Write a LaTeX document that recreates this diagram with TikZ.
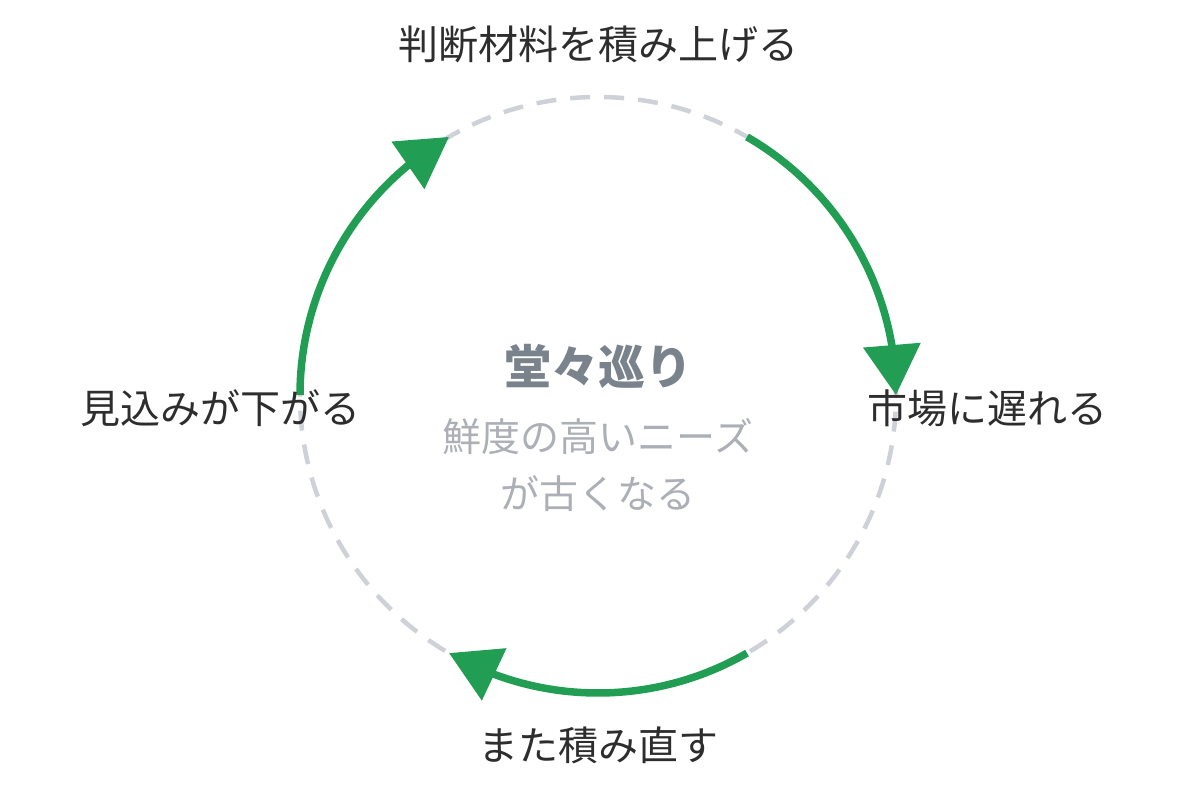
\documentclass[tikz,border=0pt]{standalone}
\usepackage{fontspec}
\setmainfont{Noto Sans CJK JP}
\usetikzlibrary{arrows.meta,bending}
\definecolor{loopgreen}{RGB}{34,158,84}
\definecolor{ringgray}{RGB}{206,209,215}
\definecolor{labeldark}{RGB}{45,45,45}
\definecolor{titlegray}{RGB}{122,130,140}
\definecolor{subgray}{RGB}{172,176,182}
\tikzset{
  ring/.style={draw=ringgray,line width=4.5pt,dash pattern=on 20pt off 14pt},
  cyclearc/.style={draw=loopgreen,line width=7.5pt,-{Triangle[length=50pt,width=56pt,flex]}},
  steplabel/.style={text=labeldark,font=\fontsize{40}{44}\selectfont,inner sep=0pt},
}
\begin{document}
\begin{tikzpicture}[x=1pt,y=1pt]
	\useasboundingbox (0,0) rectangle (1200,791);
	\coordinate (c) at (598,396);
	
	%Shape: Circle
	\draw [ring] (c) circle[radius=298];
	%Curve Lines
	\draw [cyclearc] (c) ++(60:298) arc[start angle=60,end angle=0,radius=298];
	\draw [cyclearc] (c) ++(-60:298) arc[start angle=-60,end angle=-120,radius=298];
	\draw [cyclearc] (c) ++(180:298) arc[start angle=180,end angle=120,radius=298];
	
	% Text Node
	\node (stack) [steplabel] at (598,747) {判断材料を積み上げる};
	% Text Node
	\node (late) [steplabel] at (987,383) {市場に遅れる};
	% Text Node
	\node (redo) [steplabel] at (598,46) {また積み直す};
	% Text Node
	\node (drop) [steplabel] at (220,383) {見込みが下がる};
	% Text Node
	\node (title) [text=titlegray,font=\fontsize{47}{50}\selectfont\bfseries] at (598,425) {堂々巡り};
	% Text Node
	\node (sub) [text=subgray,font=\fontsize{39}{57}\selectfont,align=center] at (598,326) {鮮度の高いニーズ\\が古くなる};
\end{tikzpicture}
\end{document}
